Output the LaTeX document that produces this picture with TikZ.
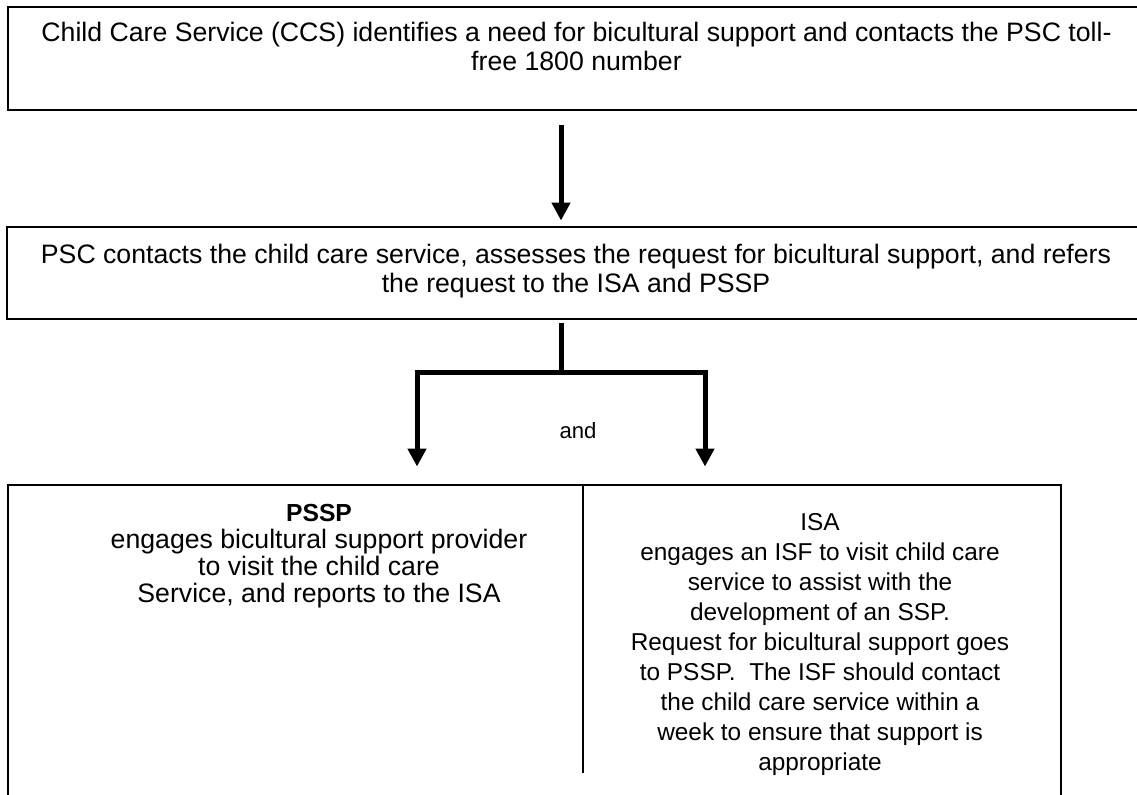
\documentclass[tikz,border=0pt]{standalone}
\usepackage{fontspec}
\setmainfont{Liberation Sans}
\usetikzlibrary{arrows.meta,positioning}

\begin{document}
\begin{tikzpicture}[x=0.75pt,y=-0.75pt,line join=miter,
                    >={Triangle[width=13.5pt,length=13.5pt]}]
  \tikzstyle{frame}=[draw,line width=2.2pt,inner sep=0pt]
  \tikzstyle{words}=[align=center,inner sep=0pt,anchor=north,
                     font=\fontsize{20pt}{21.75pt}\selectfont]
  \tikzstyle{flow}=[line width=3.75pt]

  \useasboundingbox (0,0) rectangle (1137,794);
  \clip (0,0) rectangle (1137,794);

  % boxes
  \node[frame,minimum width=852.75pt,minimum height=77.25pt] (ccs) at (576.5,58.5) {};
  \node[frame,minimum width=853.5pt,minimum height=69pt]     (psc) at (576,273)    {};
  \node[frame,minimum width=789.75pt,minimum height=243.75pt] (out) at (534.5,647.5) {};
  \coordinate (cut) at (583,773);
  \draw[line width=1.5pt] (cut |- out.north) -- (cut);

  % texts
  \node[words,below=12.5pt of ccs.north] (ccs txt)
    {Child Care Service (CCS) identifies a need for bicultural support and contacts the PSC toll-\\
     free 1800 number};
  \node[words,below=13.5pt of psc.north] (psc txt)
    {PSC contacts the child care service, assesses the request for bicultural support, and refers\\
     the request to the ISA and PSSP};
  \node[words,font=\fontsize{20pt}{20.25pt}\selectfont] (pssp txt) at (319,503.5)
    {{\fontsize{18.5pt}{20.25pt}\selectfont\textbf{PSSP}}\\
     engages bicultural support provider\\
     to visit the child care\\
     Service, and reports to the ISA};
  \node[words,font=\fontsize{18.3pt}{22.5pt}\selectfont] (isa txt) at (820,513)
    {ISA\\
     engages an ISF to visit child care\\
     service to assist with the\\
     development of an SSP.\\
     Request for bicultural support goes\\
     to PSSP.\ \ The ISF should contact\\
     the child care service within a\\
     week to ensure that support is\\
     appropriate};
  \node[words,anchor=base,font=\fontsize{16.6pt}{20pt}\selectfont] (and) at (578,438) {and};

  % arrows
  \coordinate (trunk) at (561,372);
  \coordinate (lbranch) at (417,0);
  \coordinate (rbranch) at (705,0);
  \draw[flow,->,shorten <=10.5pt,shorten >=3.75pt] (ccs.south -| trunk) -- (psc.north -| trunk);
  \draw[flow,->,shorten <=2pt,shorten >=12.75pt] (psc.south -| trunk) -- (trunk) -| (out.north -| lbranch);
  \draw[flow,->,shorten <=2pt,shorten >=12.75pt] (psc.south -| trunk) -- (trunk) -| (out.north -| rbranch);
\end{tikzpicture}
\end{document}
